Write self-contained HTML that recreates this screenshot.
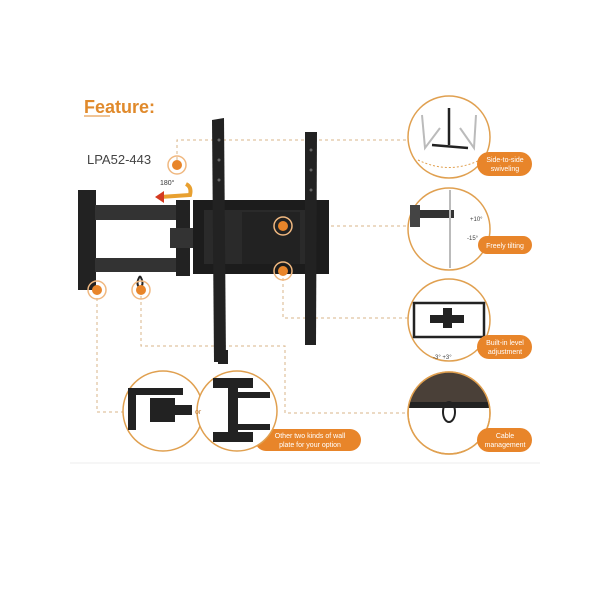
<!DOCTYPE html>
<html><head><style>
body{margin:0;background:#fff;width:600px;height:600px;overflow:hidden;font-family:"Liberation Sans",sans-serif}
</style></head><body>
<svg width="600" height="600" viewBox="0 0 600 600" xmlns="http://www.w3.org/2000/svg">
<defs><clipPath id="c4"><circle cx="449" cy="413" r="41"/></clipPath></defs>
<g font-family="Liberation Sans, sans-serif">
<text x="84" y="113" font-size="18" font-weight="bold" fill="#e08a2c">Feature:</text>
<line x1="84" y1="116" x2="110" y2="116" stroke="#e08a2c" stroke-width="1"/>
<text x="87" y="164" font-size="13" fill="#444">LPA52-443</text>
<g fill="none" stroke="#d8b58a" stroke-width="1" stroke-dasharray="3,3">
<polyline points="177,160 177,140 408,140"/>
<polyline points="283,226 408,226"/>
<polyline points="283,272 283,318 408,318"/>
<polyline points="141,290 141,346 285,346 285,413 408,413"/>
<polyline points="97,292 97,412 123,412"/>
</g>
<g fill="#222">
<rect x="78" y="190" width="18" height="100"/>
<rect x="95" y="205" width="85" height="15" fill="#333"/>
<rect x="95" y="258" width="85" height="14" fill="#333"/>
<rect x="176" y="200" width="14" height="76"/>
<rect x="170" y="228" width="72" height="20" fill="#333"/>
<rect x="193" y="200" width="136" height="74" fill="#1c1c1c"/>
<rect x="204" y="210" width="112" height="54" fill="#2a2a2a"/>
<rect x="242" y="212" width="58" height="52" fill="#222"/>
<polygon points="212,120 224,118 226,362 214,362"/>
<polygon points="305,132 317,132 316,345 305,345"/>
</g>
<g fill="#666"><circle cx="219" cy="140" r="1.5"/><circle cx="219" cy="160" r="1.5"/><circle cx="219" cy="180" r="1.5"/><circle cx="311" cy="150" r="1.5"/><circle cx="311" cy="170" r="1.5"/><circle cx="311" cy="190" r="1.5"/></g>
<path d="M140 276 q-5 8 0 12 q5 -4 0 -12" fill="none" stroke="#222" stroke-width="2"/>
<text x="160" y="185" font-size="7" fill="#333">180°</text>
<path d="M160 197 L190 195 Q192 187 186 184" fill="none" stroke="#e8a030" stroke-width="4"/>
<polygon points="155,197 164,191 164,203" fill="#d43a20"/>
<g>
<g transform="translate(177,165)"><circle r="9" fill="none" stroke="#f0b880" stroke-width="1.5"/><circle r="5" fill="#e8852a"/></g>
<g transform="translate(283,226)"><circle r="9" fill="none" stroke="#f0b880" stroke-width="1.5"/><circle r="5" fill="#e8852a"/></g>
<g transform="translate(283,271)"><circle r="9" fill="none" stroke="#f0b880" stroke-width="1.5"/><circle r="5" fill="#e8852a"/></g>
<g transform="translate(97,290)"><circle r="9" fill="none" stroke="#f0b880" stroke-width="1.5"/><circle r="5" fill="#e8852a"/></g>
<g transform="translate(141,290)"><circle r="9" fill="none" stroke="#f0b880" stroke-width="1.5"/><circle r="5" fill="#e8852a"/></g>
</g>
<g fill="#fff" stroke="#e0a050" stroke-width="1.5">
<circle cx="449" cy="137" r="41"/>
<circle cx="449" cy="229" r="41"/>
<circle cx="449" cy="320" r="41"/>
<circle cx="449" cy="413" r="41"/>
</g>
<g stroke="#bbb" stroke-width="2" fill="none"><path d="M422 115 L425 148 L440 128"/><path d="M476 115 L474 148 L460 128"/></g>
<path d="M449 108 V145 M432 145 L468 148" stroke="#222" stroke-width="2.5"/>
<path d="M418 160 Q449 175 480 160" stroke="#e0a050" stroke-dasharray="2,2" fill="none"/>
<rect x="414" y="210" width="40" height="8" fill="#333"/>
<rect x="410" y="205" width="10" height="22" fill="#444"/>
<line x1="450" y1="190" x2="450" y2="268" stroke="#bbb" stroke-width="2"/>
<text x="470" y="221" font-size="6" fill="#444">+10°</text>
<text x="467" y="240" font-size="6" fill="#444">-15°</text>
<rect x="414" y="303" width="70" height="34" fill="none" stroke="#222" stroke-width="2.5"/>
<rect x="430" y="315" width="34" height="8" fill="#222"/>
<rect x="443" y="308" width="9" height="20" fill="#222"/>
<text x="433" y="359" font-size="6" fill="#444">-3°  +3°</text>
<g clip-path="url(#c4)">
<rect x="405" y="370" width="90" height="32" fill="#4a4038"/>
<rect x="405" y="402" width="90" height="6" fill="#222"/>
</g>
<ellipse cx="449" cy="412" rx="6" ry="10" fill="none" stroke="#222" stroke-width="2"/>
<circle cx="449" cy="413" r="41" fill="none" stroke="#e0a050" stroke-width="1.5"/>
<g fill="#e8852a">
<rect x="477" y="152" width="55" height="24" rx="12"/>
<rect x="478" y="236" width="54" height="18" rx="9"/>
<rect x="477" y="335" width="55" height="24" rx="12"/>
<rect x="477" y="428" width="55" height="24" rx="12"/>
<rect x="255" y="429" width="106" height="22" rx="11"/>
</g>
<g fill="#fff" font-size="7" text-anchor="middle">
<text x="505" y="162">Side-to-side</text><text x="505" y="171">swiveling</text>
<text x="505" y="248">Freely tilting</text>
<text x="505" y="345">Built-in level</text><text x="505" y="354">adjustment</text>
<text x="505" y="438">Cable</text><text x="505" y="447">management</text>
<text x="310" y="438">Other two kinds of wall</text><text x="310" y="447">plate for your option</text>
</g>
<g fill="#fff" stroke="#e0a050" stroke-width="1.5">
<circle cx="163" cy="411" r="40"/>
<circle cx="237" cy="411" r="40"/>
</g>
<g fill="#222">
<rect x="128" y="390" width="8" height="40"/><rect x="128" y="388" width="55" height="7"/><rect x="150" y="398" width="25" height="24"/><rect x="170" y="405" width="22" height="10"/>
<rect x="213" y="378" width="40" height="10"/><rect x="213" y="432" width="40" height="10"/><rect x="228" y="378" width="10" height="64"/><rect x="238" y="392" width="32" height="6"/><rect x="238" y="424" width="32" height="6"/>
</g>
<text x="195" y="414" font-size="7" fill="#c08040">or</text>
<rect x="218" y="350" width="10" height="14" fill="#222"/>
<line x1="70" y1="463" x2="540" y2="463" stroke="#eee" stroke-width="1"/>
</g>
</svg>
</body></html>
